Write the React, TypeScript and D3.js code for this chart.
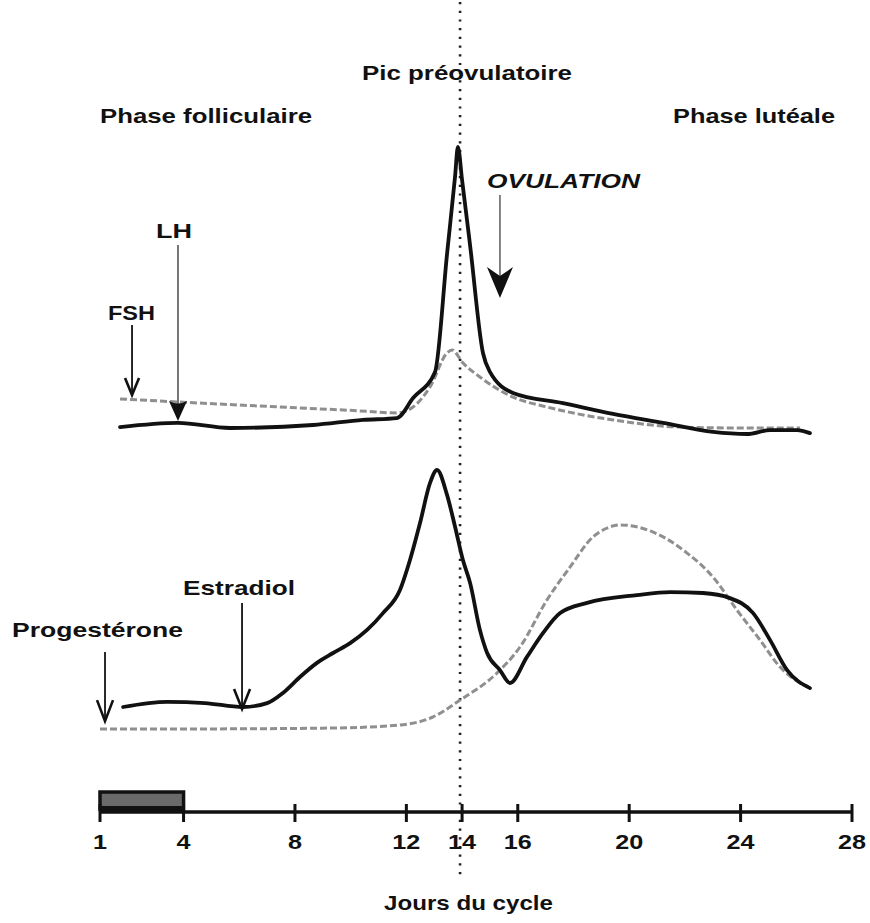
import React from "react";
import * as d3 from "d3";

// ---- Data (days of the cycle, arbitrary hormone levels 0-100) ----
const tickDays = [1, 4, 8, 12, 14, 16, 20, 24, 28];
const mensesDays = [1, 4];
const ovulationDay = 14;

const lhDays = [1.72, 3.8, 5.67, 8.65, 10.44, 11.66, 12.24, 13.03, 13.46, 13.75, 13.85, 14.0, 14.29, 14.75, 15.0, 15.83, 17.62, 19.42, 21.22, 23.01, 24.23, 25.06, 26.03, 26.49];
const lhValues = [4.3, 5.7, 4.0, 5.0, 6.7, 7.3, 14, 22.7, 62, 88, 97.7, 86.7, 64.7, 29, 22.7, 15.7, 12.3, 8.7, 5.7, 2.7, 2.0, 3.3, 3.3, 2.3];

const fshDays = [1.72, 4.59, 7.46, 10.34, 11.66, 12.24, 12.85, 13.46, 13.64, 14.03, 14.64, 15.83, 17.05, 19.42, 21.83, 23.98, 26.13];
const fshValues = [13.7, 12.3, 11, 9.7, 9, 11, 17.7, 29, 30, 25.7, 21, 14.3, 11, 6.7, 4.3, 4, 4];

const estradiolDays = [1.83, 3.41, 4.77, 6.13, 7.0, 7.57, 8.18, 8.79, 9.37, 9.98, 10.59, 11.16, 11.77, 12.13, 12.49, 12.85, 13.1, 13.46, 13.75, 14.03, 14.29, 14.64, 14.9, 15.36, 15.72, 16.33, 16.91, 17.52, 18.49, 20.28, 21.47, 22.65, 23.62, 24.45, 25.06, 25.67, 26.49];
const estradiolValues = [11, 12.7, 12.3, 11, 12.3, 15.7, 21, 25.7, 29, 32.3, 36.7, 42.3, 50, 60, 72.3, 85.7, 90, 81.7, 71, 60, 52.3, 36.7, 29, 23.3, 19, 27.7, 35.7, 42.3, 45.7, 48.3, 49.3, 49, 47.3, 42.3, 33.3, 23.3, 17.3];

const progesteroneDays = [1, 4.59, 9.37, 11.77, 12.96, 13.93, 15.25, 16.08, 17.05, 17.88, 18.7, 19.17, 19.67, 20.86, 22.08, 23.01, 23.87, 24.7, 25.42, 26.39];
const progesteroneValues = [3.7, 3.7, 4, 5, 7.7, 13.3, 22.3, 31, 46.7, 57.7, 67.7, 70.5, 71.7, 69.3, 62.3, 54.3, 43.3, 33.3, 24.3, 17.7];

const phaseLabels = ["Phase folliculaire", "Pic préovulatoire", "Phase lutéale"];
const axisTitle = "Jours du cycle";

// annotation arrows: label, day, target level, panel
const arrowLabels = ["FSH", "LH", "OVULATION", "Estradiol", "Progestérone"];
const arrowDays = [2.15, 3.8, 15.36, 6.1, 1.18];
const arrowValues = [15, 6.3, 47.3, 10.3, 6.3];
const arrowPanels = ["top", "top", "top", "bottom", "bottom"];

const W = 870;
const H = 923;
const FONT = "'Liberation Sans', Arial, Helvetica, sans-serif";

export default function App() {
  const x = d3.scaleLinear().domain([1, 28]).range([100, 852]);
  const yTop = d3.scaleLinear().domain([0, 100]).range([440, 140]);
  const yBot = d3.scaleLinear().domain([0, 100]).range([740, 440]);
  const axisY = 812;

  const mk = (days: number[], vals: number[], y: d3.ScaleLinear<number, number>) =>
    d3
      .line<number>()
      .x((_, i) => x(days[i]))
      .y((v) => y(v))
      .curve(d3.curveMonotoneX)(vals) || "";

  const lhPath = mk(lhDays, lhValues, yTop);
  const fshPath = mk(fshDays, fshValues, yTop);
  const e2Path = mk(estradiolDays, estradiolValues, yBot);
  const pPath = mk(progesteroneDays, progesteroneValues, yBot);

  const tip = (i: number) => {
    const ys = arrowPanels[i] === "top" ? yTop : yBot;
    return [x(arrowDays[i]), ys(arrowValues[i])];
  };

  const txt = (s: string, xx: number, yy: number, len: number, size = 20.5, extra: any = {}) => (
    <text
      x={xx}
      y={yy}
      fontFamily={FONT}
      fontWeight="bold"
      fontSize={size}
      textLength={len}
      lengthAdjust="spacingAndGlyphs"
      fill="#111"
      {...extra}
    >
      {s}
    </text>
  );

  const [fx, fy] = tip(0);
  const [lx, ly] = tip(1);
  const [ox, oy] = tip(2);
  const [ex, ey] = tip(3);
  const [px, py] = tip(4);

  return (
    <svg
      width={W}
      height={H}
      style={{ position: "absolute", left: 0, top: 0, background: "#fff" }}
    >
      <rect x={0} y={0} width={W} height={H} fill="#fff" />

      {/* ovulation dotted line */}
      <line
        x1={x(ovulationDay) - 2}
        x2={x(ovulationDay) - 2}
        y1={2}
        y2={876}
        stroke="#222"
        strokeWidth={2.6}
        strokeDasharray="2.2 6.5"
      />

      {/* Phase labels */}
      {txt(phaseLabels[0], 100, 123, 212)}
      {txt(phaseLabels[1], 362, 80, 210, 21)}
      {txt(phaseLabels[2], 673, 123, 162)}

      {/* Curves: dashed first */}
      <path d={fshPath} fill="none" stroke="#8f8f8f" strokeWidth={3} strokeDasharray="7 3" />
      <path d={pPath} fill="none" stroke="#8f8f8f" strokeWidth={3} strokeDasharray="7 3" />
      <path d={lhPath} fill="none" stroke="#111" strokeWidth={3.8} strokeLinejoin="round" strokeLinecap="round" />
      <path d={e2Path} fill="none" stroke="#111" strokeWidth={3.8} strokeLinejoin="round" strokeLinecap="round" />

      {/* FSH arrow */}
      <line x1={fx} x2={fx} y1={fy - 70} y2={fy - 2} stroke="#111" strokeWidth={1.8} />
      <polyline points={`${fx - 7},${fy - 17} ${fx},${fy} ${fx + 7},${fy - 17}`} fill="none" stroke="#111" strokeWidth={2.6} />
      {txt(arrowLabels[0], 108, 320, 47)}

      {/* LH arrow */}
      <line x1={lx} x2={lx} y1={245} y2={ly - 10} stroke="#555" strokeWidth={1.6} />
      <path d={`M${lx - 9},${ly - 20} Q${lx},${ly - 15} ${lx + 9},${ly - 20} L${lx},${ly} Z`} fill="#111" />
      {txt(arrowLabels[1], 156, 238, 36)}

      {/* OVULATION arrow */}
      <line x1={ox} x2={ox} y1={195} y2={oy - 20} stroke="#666" strokeWidth={1.6} />
      <path d={`M${ox - 13},${oy - 31} L${ox},${oy - 22} L${ox + 13},${oy - 31} L${ox},${oy} Z`} fill="#111" />
      {txt(arrowLabels[2], 487, 188, 153, 21, { fontStyle: "italic" })}

      {/* Estradiol arrow */}
      <line x1={ex} x2={ex} y1={603} y2={ey - 2} stroke="#111" strokeWidth={1.8} />
      <polyline points={`${ex - 8},${ey - 20} ${ex},${ey} ${ex + 8},${ey - 20}`} fill="none" stroke="#111" strokeWidth={2.6} />
      {txt(arrowLabels[3], 183, 595, 112)}

      {/* Progesterone arrow */}
      <line x1={px} x2={px} y1={652} y2={py - 2} stroke="#111" strokeWidth={1.8} />
      <polyline points={`${px - 8},${py - 21} ${px},${py} ${px + 8},${py - 21}`} fill="none" stroke="#111" strokeWidth={2.6} />
      {txt(arrowLabels[4], 12, 637, 171)}

      {/* Menses bar */}
      <rect
        x={x(mensesDays[0])}
        y={792}
        width={x(mensesDays[1]) - x(mensesDays[0])}
        height={17}
        fill="#6a6a6a"
        stroke="#111"
        strokeWidth={3.5}
      />
      <rect x={x(mensesDays[0])} y={806} width={x(mensesDays[1]) - x(mensesDays[0])} height={6} fill="#111" />

      {/* Axis */}
      <line x1={x(1)} x2={x(28)} y1={axisY} y2={axisY} stroke="#111" strokeWidth={3.5} />
      {tickDays.map((d) => (
        <g key={d}>
          <line x1={x(d)} x2={x(d)} y1={axisY - 8} y2={axisY + 10} stroke="#111" strokeWidth={3} />
          <text
            x={x(d)}
            y={849}
            textAnchor="middle"
            fontFamily={FONT}
            fontWeight="bold"
            fontSize={20.5}
            textLength={String(d).length * 14}
            lengthAdjust="spacingAndGlyphs"
            fill="#111"
          >
            {d}
          </text>
        </g>
      ))}

      {txt(axisTitle, 384, 910, 169, 21)}
    </svg>
  );
}
